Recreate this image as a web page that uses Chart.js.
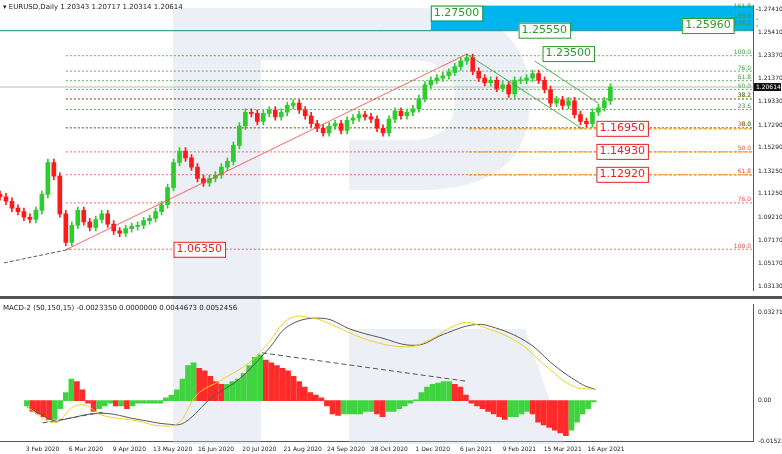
<!DOCTYPE html>
<html>
<head>
<meta charset="utf-8">
<script src="https://cdn.jsdelivr.net/npm/chart.js@4.4.1/dist/chart.umd.min.js"></script>
<style>
body { margin: 0; background: #fff; }
#wrap { position: relative; width: 782px; height: 454px; font-family: Tahoma, "DejaVu Sans", sans-serif; }
#mainBox { position: absolute; left: 0; top: 0; width: 782px; height: 296px; }
#macdBox { position: absolute; left: 0; top: 299px; width: 782px; height: 155px; }
#sep { position: absolute; left: 0; top: 296px; width: 782px; height: 3px; background: #555; }
.hdr { position: absolute; font-size: 7px; color: #222; white-space: nowrap; }
</style>
</head>
<body>
<div id="wrap">
  <div id="mainBox"><canvas id="mainChart"></canvas></div>
  <div id="sep"></div>
  <div id="macdBox"><canvas id="macdChart"></canvas></div>
  <div class="hdr" style="left:3px;top:3px">▾ EURUSD,Daily 1.20343 1.20717 1.20314 1.20614</div>
  <div class="hdr" style="left:3px;top:304px">MACD-2 (50,150,15) -0.0023350 0.0000000 0.0044673 0.0052456</div>
</div>
<script>
// one candle every 3 trading days, bar index = k*3
const closes = [
  1.110, 1.106, 1.100, 1.097, 1.092, 1.090, 1.098, 1.112, 1.140, 1.128,
  1.095, 1.070, 1.085, 1.098, 1.088, 1.083, 1.090, 1.095, 1.086, 1.080,
  1.078, 1.082, 1.084, 1.085, 1.089, 1.091, 1.097, 1.103, 1.118, 1.140,
  1.150, 1.144, 1.136, 1.126, 1.122, 1.126, 1.129, 1.136, 1.141, 1.155,
  1.172, 1.184, 1.183, 1.176, 1.183, 1.186, 1.180, 1.184, 1.190, 1.192,
  1.186, 1.181, 1.174, 1.170, 1.166, 1.172, 1.174, 1.168, 1.177, 1.179,
  1.182, 1.180, 1.178, 1.170, 1.166, 1.178, 1.185, 1.181, 1.184, 1.187,
  1.196, 1.208, 1.212, 1.214, 1.216, 1.219, 1.224, 1.229, 1.232, 1.220,
  1.214, 1.210, 1.212, 1.205, 1.208, 1.200, 1.212, 1.212, 1.214, 1.218,
  1.212, 1.204, 1.192, 1.195, 1.190, 1.194, 1.182, 1.176, 1.174, 1.184,
  1.188, 1.194, 1.206
];
const firstOpen = 1.112;
const histValues = [
  -0.002, -0.004, -0.005, -0.006, -0.007, -0.007, -0.003, 0.003, 0.008, 0.007,
  0.004, -0.001, -0.004, -0.003, -0.002, -0.001, -0.002, -0.002, -0.003, -0.002,
  -0.001, -0.001, -0.001, -0.001, -0.001, 0.001, 0.002, 0.004, 0.008, 0.013,
  0.014, 0.012, 0.011, 0.009, 0.007, 0.006, 0.006, 0.007, 0.008, 0.010,
  0.013, 0.016, 0.017, 0.015, 0.014, 0.013, 0.012, 0.011, 0.009, 0.007,
  0.005, 0.003, 0.002, 0.001, -0.002, -0.005, -0.0055, -0.005, -0.005, -0.005,
  -0.005, -0.004, -0.004, -0.005, -0.006, -0.004, -0.004, -0.003, -0.002, -0.001,
  0.0003, 0.003, 0.005, 0.006, 0.0065, 0.007, 0.007, 0.006, 0.005, 0.002,
  -0.001, -0.002, -0.003, -0.004, -0.005, -0.006, -0.007, -0.006, -0.006, -0.005,
  -0.004, -0.005, -0.008, -0.009, -0.010, -0.011, -0.012, -0.013, -0.011, -0.008,
  -0.005, -0.003, -0.0005
];
const macdX = [0, 15, 20, 40, 60, 77, 85, 100, 115, 130, 142, 160, 175, 190, 210, 225, 240, 250, 270, 285, 300, 307];
const macdMain = [-0.0023, -0.0076, -0.007, -0.0047, -0.007, -0.0088, -0.0082, 0.0012, 0.0082, 0.0188, 0.028, 0.0305, 0.0264, 0.0235, 0.0205, 0.0246, 0.028, 0.0276, 0.0217, 0.0129, 0.0059, 0.0041];
const signalX = [0, 15, 25, 32, 40, 60, 72, 82, 92, 105, 120, 130, 142, 155, 165, 185, 205, 215, 235, 245, 265, 280, 295, 307];
const signalVals = [-0.0023, -0.0082, -0.0023, -0.0018, -0.0053, -0.0076, -0.0094, -0.0082, 0.0023, 0.0076, 0.0141, 0.0211, 0.0305, 0.0305, 0.028, 0.0223, 0.0199, 0.0217, 0.0288, 0.0276, 0.0217, 0.0129, 0.0053, 0.0041];
const priceTicks = [1.03130, 1.05170, 1.07170, 1.09210, 1.11250, 1.13250, 1.15290, 1.17290, 1.19330, 1.21370, 1.23370, 1.25410, 1.27410];
const dateLabels = ["3 Feb 2020", "6 Mar 2020", "9 Apr 2020", "13 May 2020", "16 Jun 2020", "20 Jul 2020", "21 Aug 2020", "24 Sep 2020", "28 Oct 2020", "1 Dec 2020", "6 Jan 2021", "9 Feb 2021", "15 Mar 2021", "16 Apr 2021"];
const dateIdx = [8.5, 31.9, 55.3, 78.7, 102.1, 125.5, 148.9, 172.3, 195.7, 219.1, 242.5, 265.9, 289.3, 312.7];
const fibRed = [[1.1957, "38.2"], [1.1704, "38.2"], [1.1493, "50.0"], [1.1293, "61.8"], [1.1046, "76.0"], [1.0640, "100.0"]];
const fibGreen = [[1.2741, "161.8"], [1.2655, "150.0"], [1.2596, "138.2"], [1.2336, "100.0"], [1.2201, "76.0"], [1.2117, "61.8"], [1.2041, "50.0"], [1.1957, "38.2"], [1.1864, "23.6"], [1.1704, "0.0"]];
const orangeLevels = [1.1695, 1.1493, 1.1292];
const lastPrice = 1.20614;

const XMAX = 377.5;
const candleIdx = closes.map((c, k) => k * 3);
const opens = closes.map((c, k) => (k === 0 ? firstOpen : closes[k - 1]));
const bull = "#2ecc2e", bear = "#ff1a1a";
const colors = closes.map((c, k) => (c >= opens[k] ? bull : bear));

const fontSmall = { family: "Tahoma, 'DejaVu Sans', sans-serif", size: 6 };

function box(ctx, x, y, text, col, size) {
    ctx.font = size + "px 'DejaVu Sans', sans-serif";
    const w = ctx.measureText(text).width + 6;
    ctx.fillStyle = "#fff";
    ctx.fillRect(x, y, w, size + 4);
    ctx.strokeStyle = col;
    ctx.lineWidth = 1;
    ctx.strokeRect(x + 0.5, y + 0.5, w, size + 4);
    ctx.fillStyle = col;
    ctx.textBaseline = "top";
    ctx.fillText(text, x + 3, y + 2);
}

const overlays = {
    id: "overlays",
    beforeDatasetsDraw(chart) {
        const ctx = chart.ctx, xs = chart.scales.x, ys = chart.scales.y;
        const X = (v) => xs.getPixelForValue(v), Y = (v) => ys.getPixelForValue(v);
        const area = chart.chartArea;
        ctx.save();
        // watermark
        ctx.fillStyle = "rgba(200,210,225,0.35)";
        ctx.fillRect(173, 8, 88, 296);
        ctx.beginPath();
        ctx.moveTo(261, 8); ctx.lineTo(420, 8); ctx.quadraticCurveTo(530, 8, 530, 100);
        ctx.quadraticCurveTo(530, 190, 420, 190); ctx.lineTo(349, 190); ctx.lineTo(349, 140);
        ctx.lineTo(410, 140); ctx.quadraticCurveTo(455, 140, 455, 100); ctx.quadraticCurveTo(455, 60, 410, 60);
        ctx.lineTo(261, 60); ctx.closePath(); ctx.fill();
        // blue target zone
        ctx.fillStyle = "#00b4ee";
        ctx.fillRect(X(216), Y(1.2775), area.right - X(216), Y(1.2560) - Y(1.2775));
        ctx.strokeStyle = "#0a8f8f";
        ctx.beginPath(); ctx.moveTo(area.left, Y(1.2555)); ctx.lineTo(area.right, Y(1.2555)); ctx.stroke();
        ctx.setLineDash([2, 2]);
        ctx.font = "6px 'DejaVu Sans', sans-serif";
        ctx.textAlign = "right";
        ctx.textBaseline = "bottom";
        fibRed.forEach(([p, t]) => {
            ctx.strokeStyle = "rgba(230,60,60,0.8)";
            ctx.beginPath(); ctx.moveTo(X(33), Y(p)); ctx.lineTo(area.right, Y(p)); ctx.stroke();
            ctx.fillStyle = "#e85050"; ctx.fillText(t, area.right - 2, Y(p));
        });
        fibGreen.forEach(([p, t]) => {
            ctx.strokeStyle = "rgba(60,150,60,0.8)";
            ctx.beginPath(); ctx.moveTo(X(p > 1.25 ? 380 : 33), Y(p)); ctx.lineTo(area.right, Y(p)); ctx.stroke();
            ctx.fillStyle = "#3a9a3a"; ctx.fillText(t, area.right - 2, Y(p));
        });
        ctx.setLineDash([3, 2]);
        ctx.strokeStyle = "#f0a000";
        ctx.lineWidth = 1.3;
        orangeLevels.forEach((p) => {
            ctx.beginPath(); ctx.moveTo(X(235), Y(p)); ctx.lineTo(area.right, Y(p)); ctx.stroke();
        });
        ctx.setLineDash([]);
        ctx.lineWidth = 1;
        ctx.strokeStyle = "#bbb";
        ctx.beginPath(); ctx.moveTo(area.left, Y(lastPrice)); ctx.lineTo(area.right, Y(lastPrice)); ctx.stroke();
        ctx.restore();
    },
    afterDatasetsDraw(chart) {
        const ctx = chart.ctx, xs = chart.scales.x, ys = chart.scales.y;
        const X = (v) => xs.getPixelForValue(v), Y = (v) => ys.getPixelForValue(v);
        const area = chart.chartArea;
        ctx.save();
        ctx.lineWidth = 0.8;
        ctx.strokeStyle = "#ff4040";
        ctx.beginPath(); ctx.moveTo(X(33), Y(1.0635)); ctx.lineTo(X(234), Y(1.2350)); ctx.stroke();
        ctx.strokeStyle = "#2a9a2a";
        ctx.beginPath(); ctx.moveTo(X(234), Y(1.2350)); ctx.lineTo(X(292), Y(1.1695)); ctx.stroke();
        ctx.beginPath(); ctx.moveTo(X(268), Y(1.2290)); ctx.lineTo(X(300), Y(1.1920)); ctx.stroke();
        ctx.strokeStyle = "#333";
        ctx.setLineDash([4, 2]);
        ctx.beginPath(); ctx.moveTo(X(2), Y(1.0520)); ctx.lineTo(X(35), Y(1.0640)); ctx.stroke();
        ctx.setLineDash([]);
        const g = "#2a9a2a", r = "#e82020";
        box(ctx, X(216), Y(1.2775), "1.27500", g, 11);
        box(ctx, X(260), Y(1.2555) - 8, "1.25550", g, 11);
        box(ctx, X(342), Y(1.2596) - 8, "1.25960", g, 11);
        box(ctx, X(272), Y(1.2350) - 8, "1.23500", g, 11);
        box(ctx, X(299), Y(1.1695) - 8, "1.16950", r, 11);
        box(ctx, X(299), Y(1.1493) - 8, "1.14930", r, 11);
        box(ctx, X(299), Y(1.1292) - 8, "1.12920", r, 11);
        box(ctx, X(87), Y(1.0635) - 8, "1.06350", r, 11);
        // current price tag
        ctx.fillStyle = "#111";
        ctx.fillRect(area.right + 1, Y(lastPrice) - 4, 27, 8);
        ctx.fillStyle = "#fff";
        ctx.font = "6px 'DejaVu Sans', sans-serif";
        ctx.textBaseline = "middle";
        ctx.fillText(lastPrice.toFixed(5), area.right + 3, Y(lastPrice));
        ctx.restore();
    }
};

new Chart(document.getElementById("mainChart"), {
    type: "bar",
    data: {
        datasets: [
            {
                data: candleIdx.map((x, k) => ({ x, y: [Math.min(opens[k], closes[k]) - 0.003, Math.max(opens[k], closes[k]) + 0.003] })),
                backgroundColor: colors,
                barThickness: 1,
                grouped: false,
            },
            {
                data: candleIdx.map((x, k) => ({ x, y: [opens[k], closes[k] === opens[k] ? closes[k] + 0.0005 : closes[k]] })),
                backgroundColor: colors,
                barThickness: 4,
                grouped: false,
            },
        ],
    },
    options: {
        responsive: true,
        maintainAspectRatio: false,
        animation: false,
        layout: { padding: 0 },
        plugins: { legend: { display: false }, tooltip: { enabled: false } },
        scales: {
            x: { type: "linear", min: 0, max: XMAX, display: false, offset: false },
            y: {
                position: "right",
                min: 1.0279,
                max: 1.2775,
                afterBuildTicks: (axis) => { axis.ticks = priceTicks.map((v) => ({ value: v })); },
                afterFit: (axis) => { axis.width = 29; },
                ticks: { font: fontSmall, color: "#222", padding: 2, callback: (v) => v.toFixed(5) },
                grid: { display: false, drawTicks: true, tickLength: 3 },
                border: { color: "#555" },
            },
        },
    },
    plugins: [overlays],
});

const macdOverlay = {
    id: "macdOverlay",
    beforeDatasetsDraw(chart) {
        const ctx = chart.ctx;
        ctx.save();
        ctx.fillStyle = "rgba(200,210,225,0.35)";
        ctx.fillRect(173, 0, 88, 145);
        ctx.beginPath();
        ctx.moveTo(349, 0); ctx.lineTo(349, 145); ctx.lineTo(565, 145); ctx.lineTo(525, 30); ctx.lineTo(349, 30);
        ctx.closePath(); ctx.fill();
        ctx.restore();
    },
    afterDatasetsDraw(chart) {
        const ctx = chart.ctx, xs = chart.scales.x, ys = chart.scales.y;
        ctx.save();
        ctx.strokeStyle = "#555";
        ctx.setLineDash([5, 3]);
        ctx.beginPath();
        ctx.moveTo(xs.getPixelForValue(127), ys.getPixelForValue(0.0177));
        ctx.lineTo(xs.getPixelForValue(237), ys.getPixelForValue(0.0072));
        ctx.stroke();
        ctx.beginPath();
        ctx.moveTo(xs.getPixelForValue(8.5), ys.getPixelForValue(-0.0083));
        ctx.lineTo(xs.getPixelForValue(42), ys.getPixelForValue(-0.0042));
        ctx.stroke();
        ctx.restore();
    }
};

const histColors = histValues.map((v, k) => (k > 0 && v < histValues[k - 1] ? "#ff2a2a" : "#3fd43f"));

new Chart(document.getElementById("macdChart"), {
    type: "bar",
    data: {
        datasets: [
            {
                type: "line",
                data: signalX.map((x, k) => ({ x, y: signalVals[k] })),
                borderColor: "#f2d11c",
                borderWidth: 1,
                pointRadius: 0,
                tension: 0.4,
            },
            {
                type: "line",
                data: macdX.map((x, k) => ({ x, y: macdMain[k] })),
                borderColor: "#555",
                borderWidth: 1,
                pointRadius: 0,
                tension: 0.4,
            },
            {
                data: candleIdx.map((x, k) => ({ x, y: histValues[k] })),
                backgroundColor: histColors,
                barThickness: 5,
                grouped: false,
            },
        ],
    },
    options: {
        responsive: true,
        maintainAspectRatio: false,
        animation: false,
        layout: { padding: 0 },
        plugins: { legend: { display: false }, tooltip: { enabled: false } },
        scales: {
            x: {
                type: "linear",
                min: 0,
                max: XMAX,
                afterBuildTicks: (axis) => { axis.ticks = dateIdx.map((v) => ({ value: v })); },
                ticks: {
                    font: fontSmall, color: "#222", maxRotation: 0, autoSkip: false, padding: 1,
                    callback: (v, i) => dateLabels[i],
                },
                grid: { display: false, drawTicks: true, tickLength: 3 },
                border: { color: "#555" },
            },
            y: {
                position: "right",
                min: -0.0153,
                max: 0.0356,
                afterBuildTicks: (axis) => { axis.ticks = [-0.015259, 0, 0.0327166].map((v) => ({ value: v })); },
                afterFit: (axis) => { axis.width = 29; },
                ticks: { font: fontSmall, color: "#222", padding: 2, callback: (v) => (v === 0 ? "0.00" : v.toString()) },
                grid: { display: false, tickLength: 3 },
                border: { color: "#555" },
            },
        },
    },
    plugins: [macdOverlay],
});
</script>
</body>
</html>
